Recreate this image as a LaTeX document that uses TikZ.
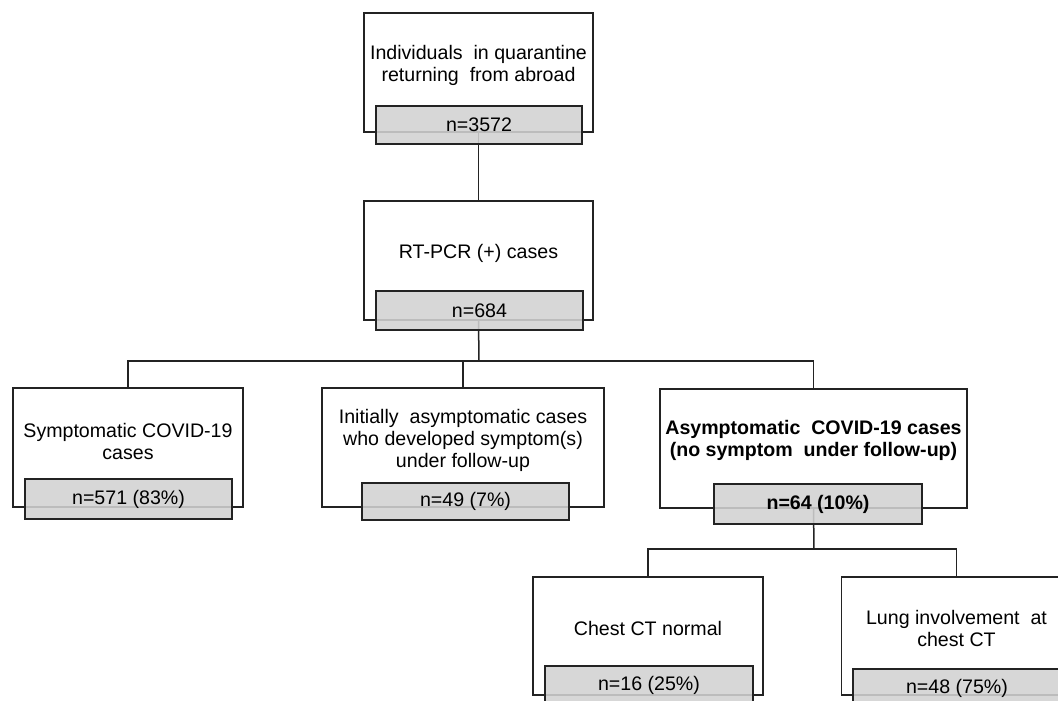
\documentclass[tikz,border=0pt]{standalone}
\usepackage{fontspec}
\setmainfont{Liberation Sans}
\definecolor{linec}{RGB}{35,35,35}
\definecolor{boxgray}{RGB}{210,210,210}
\begin{document}
\begin{tikzpicture}[x=1pt,y=-1pt,
  outer/.style={draw=linec,line width=1.6pt,fill=white,inner sep=0pt},
  gbox/.style={draw=linec,line width=1.6pt,fill=boxgray,fill opacity=0.88,text opacity=1,inner sep=0pt,font=\fontsize{19.6}{22}\selectfont},
  lbl/.style={align=center,font=\fontsize{19.6}{22}\selectfont,inner sep=0pt},
  conn/.style={draw=linec,line width=1.5pt}]
\useasboundingbox (0,0) rectangle (1058,701);
% outer boxes
\node[outer,minimum width=229pt,minimum height=119pt] (b1) at (478.5,72.5) {};
\node[outer,minimum width=229pt,minimum height=119pt] (b2) at (478.5,260.5) {};
\node[outer,minimum width=230pt,minimum height=119pt] (bL) at (128,447.5) {};
\node[outer,minimum width=282pt,minimum height=119pt] (bM) at (463,447.5) {};
\node[outer,minimum width=307pt,minimum height=119pt] (bR) at (813.5,448.5) {};
\node[outer,minimum width=230pt,minimum height=118pt] (bC) at (648,636) {};
\node[outer,minimum width=230pt,minimum height=118pt] (bG) at (956.5,636) {};
% texts
\node[lbl] (t1) at (478.5,65) {Individuals\ \ in quarantine\\returning\ \ from abroad};
\node[lbl] (t2) at (478.5,253) {RT-PCR (+) cases};
\node[lbl] (tL) at (128,441) {Symptomatic COVID-19\\cases};
\node[lbl] (tM) at (463,440) {Initially\ \ asymptomatic cases\\who developed symptom(s)\\under follow-up};
\node[lbl,font=\fontsize{19.6}{22}\selectfont\bfseries] (tR) at (813.5,440) {Asymptomatic\ \ COVID-19 cases\\(no symptom\ \ under follow-up)};
\node[lbl] (tC) at (648,628) {Chest CT normal};
\node[lbl] (tG) at (956.5,628) {Lung involvement\ \ at\\chest CT};
% junctions
\coordinate (j1) at (479,361);
\coordinate (j2) at (814,549);
% connectors
\draw[conn] (b1.south) -- (b2.north);
\draw[conn] (b2.south) -- (j1);
\draw[conn] (bL.north) |- (j1) -| (bR.north);
\draw[conn] (bM.north) -- (bM.north |- j1);
\draw[conn] (bR.south) -- (j2);
\draw[conn] (bC.north) |- (j2) -| (bG.north);
% gray count boxes
\node[gbox,minimum width=206pt,minimum height=38pt] (g1) at (479,125) {n=3572};
\node[gbox,minimum width=207pt,minimum height=39pt] (g2) at (479.5,310.5) {n=684};
\node[gbox,minimum width=207pt,minimum height=40pt] (gL) at (128.5,499) {n=571 (83\%)};
\node[gbox,minimum width=207pt,minimum height=37pt] (gM) at (465.5,501.5) {n=49 (7\%)};
\node[gbox,minimum width=208pt,minimum height=40pt,font=\fontsize{19.6}{22}\selectfont\bfseries] (gR) at (818,504) {n=64 (10\%)};
\node[gbox,minimum width=208pt,minimum height=38pt] (gC) at (649,685) {n=16 (25\%)};
\node[gbox,minimum width=208pt,minimum height=38pt] (gG) at (957,688) {n=48 (75\%)};
\end{tikzpicture}
\end{document}
